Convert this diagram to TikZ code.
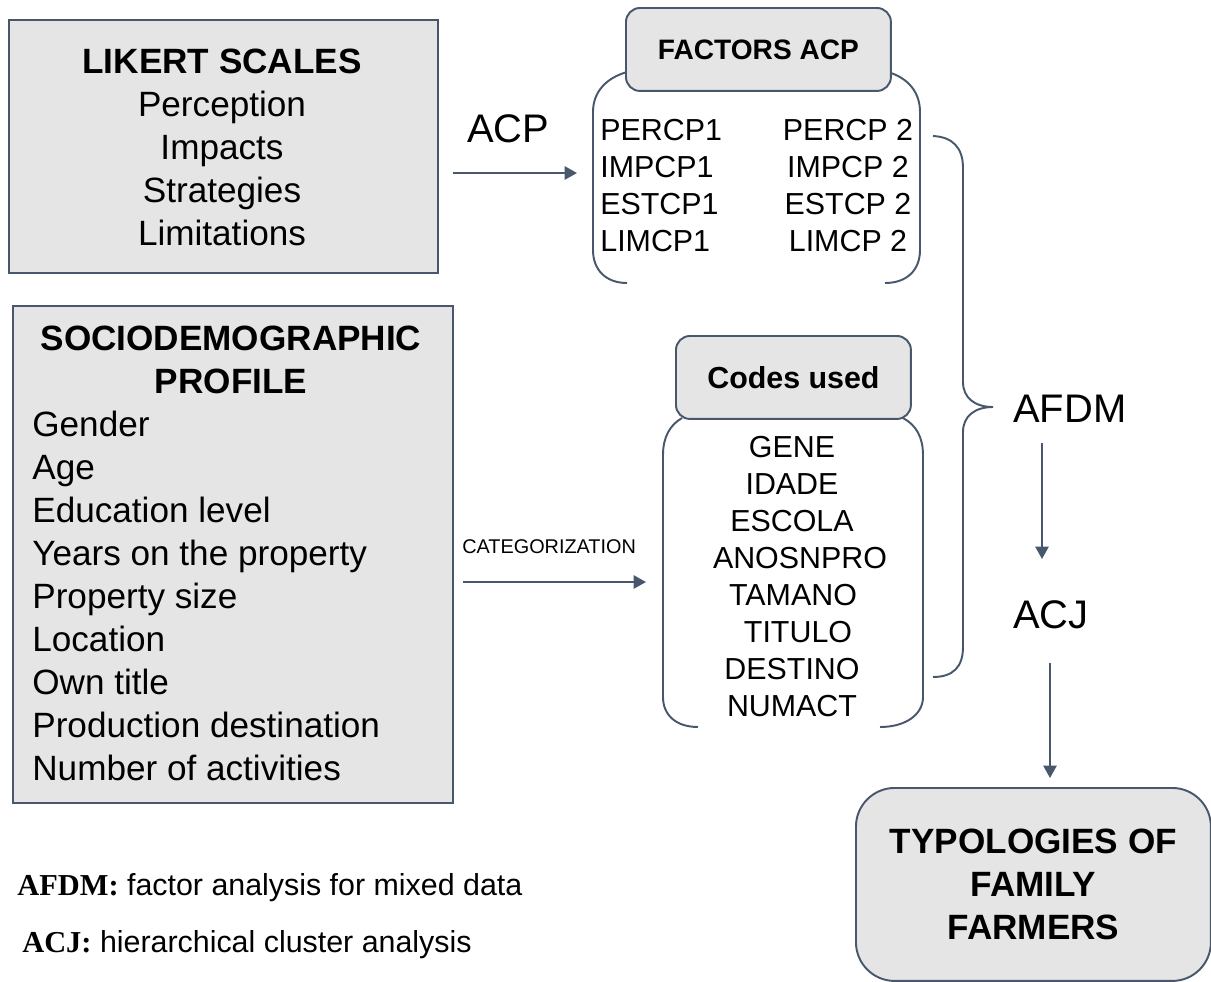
\documentclass[tikz,border=0pt]{standalone}
\usepackage{fontspec}
\setmainfont{Liberation Sans}
\newfontfamily\timesbold{Liberation Serif}
\usepackage{tikz}
\usetikzlibrary{arrows.meta}
\definecolor{slate}{RGB}{72,87,108}
\definecolor{boxgray}{RGB}{229,229,229}

\begin{document}
\begin{tikzpicture}[x=0.02cm, y=-0.02cm,
    box/.style={draw=slate, line width=1.1pt, fill=boxgray, anchor=north west, inner sep=0pt},
    rbox/.style={box, rounded corners=8pt},
    bracket/.style={draw=slate, line width=1.1pt},
    flow/.style={draw=slate, line width=1.1pt, -{Triangle[length=7pt,width=7.5pt]}},
    bigtxt/.style={anchor=base, inner sep=0pt, font=\fontsize{20}{24}\selectfont},
    bigbold/.style={anchor=base, inner sep=0pt, font=\fontsize{20}{24}\selectfont\bfseries},
    codetxt/.style={anchor=base, inner sep=0pt, font=\fontsize{17.3}{21}\selectfont},
    steptxt/.style={anchor=base west, inner sep=0pt, font=\fontsize{22.7}{27}\selectfont},
    legtxt/.style={anchor=base west, inner sep=0pt, font=\fontsize{17.3}{21}\selectfont}]

    \useasboundingbox (0,0) rectangle (1211,981);

    % Likert scales box
    \node[box, minimum width=8.58cm, minimum height=5.06cm] (likert) at (8,19) {};
    \node[bigbold] (liktitle) at (222,73) {LIKERT SCALES};
    \foreach \t [count=\i] in {Perception, Impacts, Strategies, Limitations} {
        \node[bigtxt] (lik\i) at (222,{73+43*\i}) {\t};
    }

    % Sociodemographic box
    \node[box, minimum width=8.8cm, minimum height=9.94cm] (socio) at (12,305) {};
    \node[bigbold] (sociotitle) at (231,350) {SOCIODEMOGRAPHIC};
    \node[bigbold] (sociotitleb) at (231,393) {PROFILE};
    \foreach \t [count=\i] in {Gender, Age, Education level, Years on the property,
        Property size, Location, Own title, Production destination, Number of activities} {
        \node[bigtxt, anchor=base west] (soc\i) at (32,{393+43*\i}) {\t};
    }

    % ACP step
    \node[steptxt] (acp) at (467,142) {ACP};
    \coordinate (acpS) at (453,173);
    \coordinate (acpE) at (577,173);
    \draw[flow] (acpS) -- (acpE);

    % Factors ACP group
    \draw[bracket] (627,72) .. controls (606,78) and (593,92) .. (593,112) -- (593,250)
        .. controls (593,270) and (606,283) .. (627,283);
    \draw[bracket] (888,72) .. controls (908,78) and (920,92) .. (920,112) -- (920,250)
        .. controls (920,270) and (907,283) .. (885,283);
    \node[rbox, minimum width=5.3cm, minimum height=1.66cm,
        font=\fontsize{16}{19}\selectfont\bfseries] (factors) at (625,7) {FACTORS ACP};
    \foreach \a/\b [count=\i] in {PERCP1/PERCP 2, IMPCP1/IMPCP 2, ESTCP1/ESTCP 2, LIMCP1/LIMCP 2} {
        \node[codetxt, anchor=base west] (fa\i) at (600,{103+37*\i}) {\a};
        \node[codetxt] (fb\i) at (848,{103+37*\i}) {\b};
    }

    % Categorization step
    \node[anchor=base west, inner sep=0pt, font=\fontsize{11.3}{13}\selectfont] (categ) at (462,553) {CATEGORIZATION};
    \coordinate (catS) at (463,582);
    \coordinate (catE) at (646,582);
    \draw[flow] (catS) -- (catE);

    % Codes used group
    \draw[bracket] (682,418) .. controls (670,425) and (663,437) .. (663,455) -- (663,697)
        .. controls (663,715) and (676,727) .. (698,727);
    \draw[bracket] (903,418) .. controls (916,425) and (923,437) .. (923,455) -- (923,697)
        .. controls (923,715) and (905,727) .. (880,727);
    \node[rbox, minimum width=4.7cm, minimum height=1.66cm,
        font=\fontsize{17.3}{21}\selectfont\bfseries] (codes) at (675,335) {Codes used};
    \foreach \t/\cx [count=\i] in {GENE/792, IDADE/792, ESCOLA/792, ANOSNPRO/800,
        TAMANO/793, TITULO/798, DESTINO/792, NUMACT/792} {
        \node[codetxt] (code\i) at (\cx,{420+37*\i}) {\t};
    }

    % Brace joining both groups
    \draw[bracket] (933,136) .. controls (953,137) and (963,148) .. (963,168) -- (963,382)
        .. controls (963,398) and (975,407) .. (993,407)
        .. controls (975,407) and (963,416) .. (963,432) -- (963,647)
        .. controls (963,667) and (953,677) .. (933,677);

    % AFDM and ACJ steps
    \node[steptxt] (afdm) at (1013,422) {AFDM};
    \node[steptxt] (acj) at (1013,628) {ACJ};
    \coordinate (afdmS) at (1042,443);
    \coordinate (afdmE) at (1042,559);
    \draw[flow] (afdmS) -- (afdmE);
    \coordinate (acjS) at (1050,663);
    \coordinate (acjE) at (1050,778);
    \draw[flow] (acjS) -- (acjE);

    % Result box
    \node[rbox, rounded corners=22pt, minimum width=7.1cm, minimum height=3.86cm, align=center,
        font=\fontsize{20}{24.4}\selectfont\bfseries] (typol) at (855,787)
        {TYPOLOGIES OF\\FAMILY\\FARMERS};

    % Legend
    \node[legtxt] (legafdm) at (17,895) {{\timesbold\bfseries AFDM:} factor analysis for mixed data};
    \node[legtxt] (legacj) at (22,952) {{\timesbold\bfseries ACJ:} hierarchical cluster analysis};

\end{tikzpicture}
\end{document}
